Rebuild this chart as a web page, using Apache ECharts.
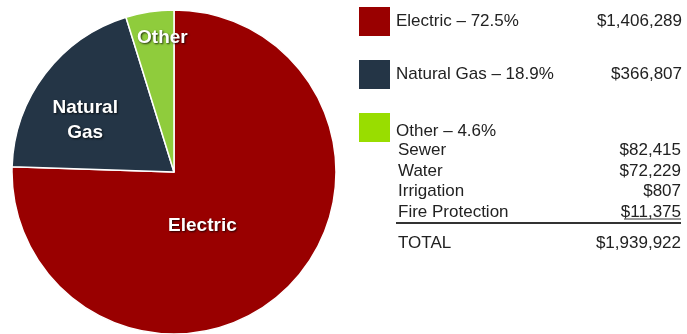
<!DOCTYPE html>
<html>
<head>
<meta charset="utf-8">
<script src="https://cdn.jsdelivr.net/npm/echarts@6/dist/echarts.min.js"></script>
<style>html,body{margin:0;padding:0;background:#fff;}#c{width:687px;height:334px;}</style>
</head>
<body>
<div id="c"></div>
<script>
var categories = ['Electric', 'Natural Gas', 'Other'];
var sliceLabels = ['Electric', 'Natural\nGas', 'Other'];
var percents = [72.5, 18.9, 4.6];
var amounts = ['$1,406,289', '$366,807', ''];
var colors = ['#990000', '#243546', '#8fcc3c'];
var legendColors = ['#990000', '#243546', '#99dd00'];
var otherNames = ['Sewer', 'Water', 'Irrigation', 'Fire Protection'];
var otherAmounts = ['$82,415', '$72,229', '$807', '$11,375'];
var totalLabel = 'TOTAL';
var totalAmount = '$1,939,922';

var labelShift = [[-30, -7], [-22, -1], [1, -51]];
var FONT = 'Liberation Sans, Arial, sans-serif';

var chart = echarts.init(document.getElementById('c'));

var pieData = categories.map(function (c, i) {
  return { name: c, value: percents[i], itemStyle: { color: colors[i] } };
});

var legendData = categories.map(function (c, i) {
  var d = { name: c, itemStyle: { color: legendColors[i] } };
  if (i === 2) d.textStyle = { padding: [8, 0, 0, 0] };
  return d;
});

var graphics = [];
var rowY = [150.5, 171, 191.5, 212.5];
otherNames.forEach(function (n, i) {
  graphics.push({ type: 'text', style: { text: n, x: 398, y: rowY[i], textVerticalAlign: 'middle', font: '17px ' + FONT, fill: '#222' } });
  graphics.push({ type: 'text', style: { text: otherAmounts[i], x: 681, y: rowY[i], textAlign: 'right', textVerticalAlign: 'middle', font: '17px ' + FONT, fill: '#222' } });
});
graphics.push({ type: 'line', shape: { x1: 624, y1: 219, x2: 681, y2: 219 }, style: { stroke: '#333', lineWidth: 1 } });
graphics.push({ type: 'line', shape: { x1: 396, y1: 223, x2: 681, y2: 223 }, style: { stroke: '#333', lineWidth: 2 } });
graphics.push({ type: 'text', style: { text: totalLabel, x: 398, y: 243, textVerticalAlign: 'middle', font: '17px ' + FONT, fill: '#222' } });
graphics.push({ type: 'text', style: { text: totalAmount, x: 681, y: 243, textAlign: 'right', textVerticalAlign: 'middle', font: '17px ' + FONT, fill: '#222' } });

chart.setOption({
  animation: false,
  backgroundColor: '#fff',
  legend: {
    orient: 'vertical',
    left: 352,
    top: 0,
    itemWidth: 33,
    itemHeight: 31,
    itemGap: 20,
    icon: 'rect',
    selectedMode: false,
    data: legendData,
    textStyle: {
      fontFamily: FONT,
      fontSize: 17,
      color: '#222',
      rich: {
        n: { width: 190, fontSize: 17, fontFamily: FONT, color: '#222' },
        v: { width: 96, align: 'right', fontSize: 17, fontFamily: FONT, color: '#222' }
      }
    },
    formatter: function (name) {
      var i = categories.indexOf(name);
      var s = '{n|' + name + ' \u2013 ' + percents[i].toFixed(1) + '%}';
      if (amounts[i]) s += '{v|' + amounts[i] + '}';
      return s;
    }
  },
  graphic: graphics,
  series: [{
    type: 'pie',
    center: [174, 172],
    radius: 162,
    startAngle: 90,
    clockwise: true,
    data: pieData,
    itemStyle: { borderColor: '#fff', borderWidth: 1.5 },
    label: {
      show: true,
      position: 'inside',
      formatter: function (p) { return sliceLabels[p.dataIndex]; },
      color: '#fff',
      fontFamily: FONT,
      fontWeight: 'bold',
      fontSize: 19,
      lineHeight: 25,
      textShadowColor: 'rgba(0,0,0,0.75)',
      textShadowBlur: 2,
      textShadowOffsetX: 1,
      textShadowOffsetY: 1
    },
    labelLine: { show: false },
    labelLayout: function (params) {
      var s = labelShift[params.dataIndex];
      return { dx: s[0], dy: s[1] };
    },
    emphasis: { disabled: true }
  }]
});
</script>
</body>
</html>
